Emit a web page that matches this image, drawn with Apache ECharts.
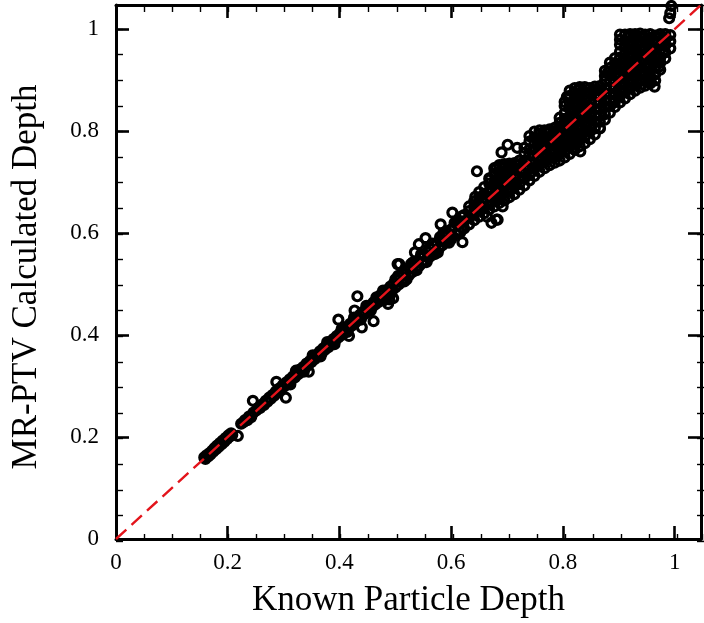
<!DOCTYPE html>
<html>
<head>
<meta charset="utf-8">
<script src="https://cdn.jsdelivr.net/npm/echarts@6/dist/echarts.min.js"></script>
<style>
  html, body { margin: 0; padding: 0; background: #fff; }
  #chart { width: 704px; height: 623px; }
</style>
</head>
<body>
<div id="chart"></div>
<script>
// Axis titles and ranges
const xTitle = 'Known Particle Depth';
const yTitle = 'MR-PTV Calculated Depth';
const xRange = [0, 1.047];
const yRange = [0, 1.047];
const majorStep = 0.2;
const minorStep = 0.05;

// Identity reference (calculated = known)
const identityLine = [[0, 0], [1.06, 1.06]];

// Shallow particles, x 0.16–0.22
const shallowRun = [
  [0.158,0.160],[0.160,0.157],[0.162,0.164],[0.165,0.162],[0.167,0.168],[0.169,0.166],
  [0.172,0.173],[0.174,0.171],[0.176,0.178],[0.179,0.176],[0.181,0.183],[0.184,0.181],
  [0.186,0.188],[0.189,0.186],[0.191,0.193],[0.194,0.191],[0.196,0.198],[0.199,0.196],
  [0.201,0.203],[0.204,0.201],[0.206,0.207],[0.208,0.204],[0.218,0.202]
];

// x 0.22–0.31
const nearRun = [
  [0.224,0.226],[0.228,0.229],[0.231,0.233],[0.235,0.233],[0.238,0.240],[0.242,0.239],
  [0.245,0.271],[0.246,0.248],[0.251,0.252],[0.254,0.256],[0.258,0.257],[0.262,0.264],
  [0.265,0.263],[0.268,0.271],[0.271,0.269],[0.274,0.277],[0.277,0.275],[0.280,0.282],
  [0.283,0.281],[0.286,0.289],[0.287,0.308],[0.289,0.287],[0.292,0.295],[0.295,0.293],
  [0.298,0.301],[0.301,0.299],[0.304,0.277]
];

// x 0.30–0.47
const midRun = [
  [0.305,0.307],[0.308,0.305],[0.311,0.313],[0.314,0.312],[0.317,0.319],[0.320,0.317],
  [0.323,0.325],[0.326,0.323],[0.329,0.332],[0.332,0.329],[0.335,0.337],[0.338,0.335],
  [0.341,0.344],[0.344,0.341],[0.345,0.328],[0.347,0.349],[0.350,0.347],[0.353,0.356],
  [0.356,0.353],[0.359,0.361],[0.362,0.359],[0.365,0.368],[0.368,0.364],[0.371,0.374],
  [0.374,0.371],[0.377,0.380],[0.380,0.376],[0.383,0.386],[0.386,0.383],[0.389,0.392],
  [0.392,0.388],[0.395,0.398],[0.398,0.430],[0.398,0.395],[0.401,0.404],[0.404,0.400],
  [0.407,0.410],[0.410,0.406],[0.413,0.416],[0.416,0.412],[0.417,0.398],[0.419,0.422],
  [0.422,0.418],[0.425,0.428],[0.427,0.448],[0.428,0.424],[0.431,0.434],[0.432,0.476],
  [0.434,0.430],[0.437,0.440],[0.440,0.415],[0.440,0.436],[0.443,0.446],[0.446,0.442],
  [0.449,0.452],[0.452,0.448],[0.455,0.458],[0.458,0.454],[0.461,0.427],[0.461,0.464],
  [0.464,0.460],[0.467,0.470],[0.470,0.465],
  [0.312,0.303],[0.322,0.330],[0.336,0.328],[0.352,0.360],[0.366,0.358],[0.378,0.386],
  [0.391,0.382],[0.404,0.412],[0.414,0.406],[0.426,0.434],[0.438,0.430],[0.448,0.457],
  [0.456,0.448],[0.466,0.474]
];

// x 0.47–0.62
const deepRun = [
  [0.473,0.478],[0.476,0.470],[0.479,0.482],[0.482,0.475],[0.485,0.488],[0.487,0.461],
  [0.488,0.481],[0.489,0.470],[0.491,0.495],[0.494,0.487],[0.496,0.472],[0.497,0.501],
  [0.500,0.493],[0.503,0.508],[0.504,0.539],[0.506,0.499],[0.507,0.539],[0.509,0.514],
  [0.512,0.505],[0.515,0.519],[0.518,0.511],[0.521,0.526],[0.524,0.517],[0.527,0.532],
  [0.530,0.523],[0.533,0.538],[0.535,0.562],[0.536,0.529],[0.539,0.544],[0.542,0.578],
  [0.542,0.535],[0.545,0.551],[0.548,0.541],[0.551,0.557],[0.554,0.590],[0.554,0.546],
  [0.557,0.562],[0.560,0.552],[0.563,0.569],[0.566,0.557],[0.569,0.575],[0.572,0.564],
  [0.575,0.581],[0.578,0.570],[0.581,0.617],[0.581,0.587],[0.584,0.576],[0.587,0.593],
  [0.590,0.582],[0.593,0.599],[0.596,0.587],[0.599,0.606],[0.602,0.640],[0.602,0.593],
  [0.605,0.612],[0.608,0.599],[0.611,0.618],[0.614,0.605],[0.617,0.623],[0.620,0.582],
  [0.620,0.610],[0.480,0.468],[0.500,0.509],[0.520,0.509],[0.531,0.542],[0.550,0.543],
  [0.561,0.571],[0.571,0.559],[0.580,0.592],[0.591,0.603],[0.600,0.588],[0.611,0.624],
  [0.478,0.487],[0.492,0.481],[0.505,0.516],[0.516,0.505],[0.528,0.539],[0.538,0.527],
  [0.546,0.558],[0.556,0.543],[0.566,0.579],[0.576,0.562],[0.586,0.600],[0.596,0.581],
  [0.606,0.620],[0.616,0.601],[0.618,0.632]
];

// Upper range x 0.62–1.0: known depth columns and the calculated depths at each
const upperKnown = [
  0.623,0.632,0.641,0.650,0.659,0.668,0.677,0.686,0.695,0.704,
  0.713,0.722,0.731,0.740,0.749,0.758,0.767,0.776,0.785,0.794,
  0.803,0.812,0.821,0.830,0.839,0.848,0.857,0.866,0.875,0.884,
  0.893,0.902,0.911,0.920,0.929,0.938,0.947,0.956,0.965,0.974,
  0.983,0.992
];
const upperCalc = [
  [0.609,0.623,0.635],
  [0.617,0.631,0.643,0.652],
  [0.625,0.636,0.651,0.662],
  [0.632,0.646,0.657,0.670,0.680],
  [0.639,0.651,0.665,0.676,0.690],
  [0.646,0.656,0.671,0.682,0.697,0.707],
  [0.652,0.665,0.676,0.691,0.701,0.716,0.727],
  [0.659,0.670,0.685,0.695,0.710,0.720,0.733],
  [0.664,0.678,0.689,0.703,0.713,0.728,0.735],
  [0.670,0.681,0.695,0.706,0.720,0.730,0.736],
  [0.676,0.690,0.700,0.715,0.725,0.737],
  [0.685,0.696,0.710,0.721,0.735,0.742],
  [0.693,0.707,0.717,0.732,0.742,0.757,0.767],
  [0.703,0.714,0.729,0.739,0.754,0.764,0.779,0.790],
  [0.712,0.726,0.737,0.751,0.762,0.776,0.787,0.799],
  [0.720,0.734,0.744,0.759,0.769,0.784,0.794,0.801],
  [0.727,0.739,0.753,0.764,0.778,0.789,0.801],
  [0.733,0.747,0.757,0.772,0.782,0.797,0.803],
  [0.738,0.749,0.763,0.774,0.788,0.799,0.806],
  [0.742,0.756,0.766,0.781,0.791,0.806,0.816,0.826],
  [0.748,0.760,0.774,0.785,0.799,0.810,0.824,0.835,0.849,0.857],
  [0.755,0.769,0.779,0.794,0.804,0.819,0.829,0.844,0.854,0.869,0.879],
  [0.763,0.775,0.789,0.800,0.814,0.825,0.839,0.850,0.864,0.875,0.884],
  [0.770,0.784,0.794,0.809,0.819,0.834,0.844,0.859,0.869,0.882,0.886],
  [0.776,0.788,0.802,0.813,0.827,0.838,0.852,0.863,0.877,0.886],
  [0.784,0.798,0.808,0.823,0.833,0.848,0.858,0.873,0.884],
  [0.793,0.805,0.819,0.830,0.844,0.855,0.869,0.879,0.887],
  [0.805,0.818,0.829,0.843,0.854,0.868,0.879,0.888],
  [0.822,0.833,0.848,0.858,0.873,0.883,0.898,0.908,0.918],
  [0.836,0.849,0.860,0.874,0.885,0.899,0.910,0.924,0.934],
  [0.847,0.858,0.873,0.883,0.898,0.908,0.923,0.933,0.943],
  [0.856,0.869,0.880,0.894,0.905,0.919,0.930,0.944,0.955,0.969,0.979,0.989],
  [0.864,0.876,0.890,0.901,0.915,0.926,0.940,0.951,0.965,0.976,0.989],
  [0.872,0.885,0.896,0.910,0.921,0.935,0.946,0.960,0.971,0.985,0.990],
  [0.879,0.890,0.905,0.915,0.930,0.940,0.955,0.965,0.980,0.990],
  [0.885,0.898,0.909,0.923,0.934,0.948,0.959,0.973,0.984,0.991],
  [0.889,0.901,0.915,0.926,0.940,0.951,0.965,0.976,0.989],
  [0.893,0.907,0.917,0.932,0.942,0.957,0.967,0.982,0.990],
  [0.899,0.911,0.925,0.936,0.950,0.961,0.975,0.987],
  [0.920,0.934,0.944,0.959,0.969,0.984,0.990],
  [0.942,0.954,0.968,0.979,0.990],
  [0.962,0.976,0.988]
];

// Scattered particles off the main band in the upper range
const upperStrays = [
  [0.643,0.671],[0.646,0.721],[0.664,0.632],[0.669,0.705],[0.672,0.620],[0.681,0.626],
  [0.681,0.728],[0.683,0.626],[0.690,0.758],[0.692,0.652],[0.701,0.773],[0.718,0.767],
  [0.745,0.720],[0.807,0.867],[0.814,0.777],[0.823,0.780],[0.831,0.760],[0.866,0.806],
  [0.890,0.855],[0.904,0.877],[0.881,0.916],[0.957,0.897],[0.964,0.887],[0.972,0.926],
  [0.990,1.021],[0.992,1.031],[0.994,1.045]
];

// Flatten the column table into [known, calculated] pairs
const upperRun = [];
upperKnown.forEach((xv, i) => upperCalc[i].forEach(yv => upperRun.push([xv, yv])));

const particles = [].concat(shallowRun, nearRun, midRun, deepRun, upperRun, upperStrays);

const serif = "'Liberation Serif', 'Times New Roman', serif";
const isMajor = v => Math.abs(v / majorStep - Math.round(v / majorStep)) < 1e-6;
const fmt = v => (isMajor(v) ? String(+v.toFixed(1)) : '');

// Frame layout shared by the major-tick grid (0) and the minor-tick grid (1)
const frame = { left: 116, right: -5, top: 5, bottom: 82 };

function axis(dim, gridIndex, position, step, opts) {
  const range = dim === 'x' ? xRange : yRange;
  const major = step === majorStep;
  return Object.assign({
    type: 'value',
    gridIndex: gridIndex,
    position: position,
    min: range[0],
    max: range[1],
    interval: step,
    axisLine: { show: major, onZero: false, lineStyle: { color: '#000', width: 3 } },
    axisTick: {
      show: true, inside: true,
      length: major ? 13 : 7,
      lineStyle: { color: '#000', width: major ? 2.6 : 1.4 }
    },
    axisLabel: { show: false },
    splitLine: { show: false },
    minorTick: { show: false },
    axisPointer: { show: false }
  }, opts || {});
}

const chart = echarts.init(document.getElementById('chart'), null, { renderer: 'canvas' });

chart.setOption({
  animation: false,
  backgroundColor: '#fff',
  grid: [Object.assign({}, frame), Object.assign({}, frame)],
  xAxis: [
    axis('x', 0, 'bottom', majorStep, {
      axisLabel: { show: true, formatter: fmt, fontFamily: serif, fontSize: 23, color: '#000', margin: 12 },
      name: xTitle, nameLocation: 'middle', nameGap: 44,
      nameTextStyle: { fontFamily: serif, fontSize: 35, color: '#000' }
    }),
    axis('x', 0, 'top', majorStep),
    axis('x', 1, 'bottom', minorStep),
    axis('x', 1, 'top', minorStep)
  ],
  yAxis: [
    axis('y', 0, 'left', majorStep, {
      axisLabel: { show: true, formatter: fmt, fontFamily: serif, fontSize: 23, color: '#000', margin: 17 },
      name: yTitle, nameLocation: 'middle', nameGap: 72,
      nameTextStyle: { fontFamily: serif, fontSize: 35, color: '#000', padding: [0, 10, 0, 0] }
    }),
    axis('y', 0, 'right', majorStep),
    axis('y', 1, 'left', minorStep),
    axis('y', 1, 'right', minorStep)
  ],
  series: [
    {
      type: 'scatter',
      xAxisIndex: 0, yAxisIndex: 0,
      data: particles,
      symbol: 'circle',
      symbolSize: 9,
      itemStyle: { color: 'rgba(0,0,0,0)', borderColor: '#000', borderWidth: 3.2, opacity: 1 },
      emphasis: { disabled: true },
      z: 2
    },
    {
      type: 'line',
      xAxisIndex: 0, yAxisIndex: 0,
      data: identityLine,
      symbol: 'none',
      lineStyle: { color: '#e3141b', width: 2.4, type: [14, 7], opacity: 1 },
      emphasis: { disabled: true },
      z: 3
    }
  ]
});
</script>
</body>
</html>
